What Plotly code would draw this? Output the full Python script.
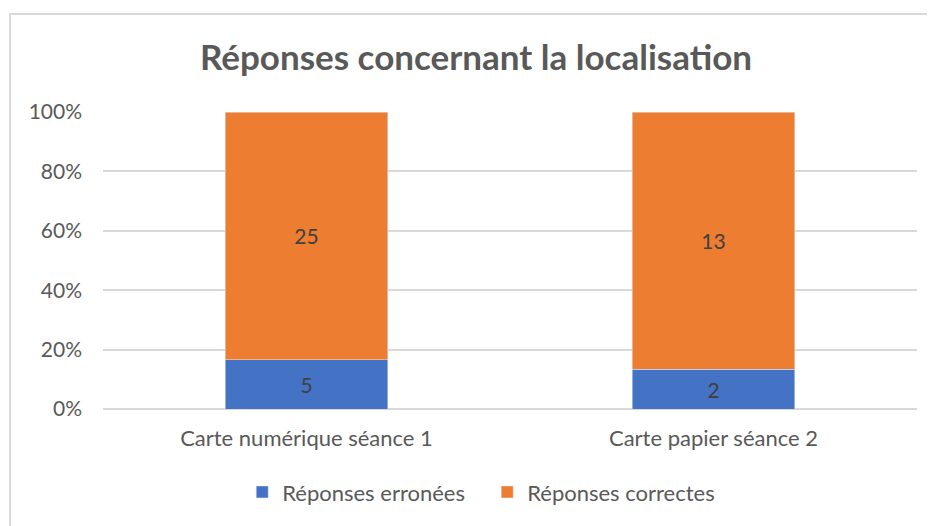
import plotly.graph_objects as go

categories = ["Carte numérique séance 1", "Carte papier séance 2"]
erronees = [5, 2]
correctes = [25, 13]
series_names = ["Réponses erronées", "Réponses correctes"]
tick_vals = [0, 20, 40, 60, 80, 100]
tick_text = ["0%", "20%", "40%", "60%", "80%", "100%"]

FONT = "Lato"
GREY = "#595959"

fig = go.Figure()
fig.add_trace(go.Bar(
    x=categories, y=erronees, name=series_names[0], marker_color="#4472C4",
    text=erronees, texttemplate="%{text}", textposition="inside",
    insidetextanchor="middle", textfont=dict(color="#404040", size=21, family=FONT),
))
fig.add_trace(go.Bar(
    x=categories, y=correctes, name=series_names[1], marker_color="#ED7D31",
    text=correctes, texttemplate="%{text}", textposition="inside",
    insidetextanchor="middle", textfont=dict(color="#404040", size=21, family=FONT),
))

fig.update_layout(
    barmode="stack", barnorm="percent", bargap=0.6,
    width=935, height=526,
    margin=dict(l=95, r=26, t=104, b=125, autoexpand=False),
    paper_bgcolor="white", plot_bgcolor="white",
    font=dict(family=FONT, color=GREY, size=21),
    title=dict(text="<b>Réponses concernant la localisation</b>", x=468/935, xref="container",
               xanchor="center", y=1 - 50/526, yref="container", yanchor="middle",
               font=dict(size=35, color=GREY, family=FONT)),
    legend=dict(orientation="h", x=0.472, xanchor="center", y=-0.28, yanchor="middle",
                font=dict(size=22, color=GREY), traceorder="normal", entrywidth=200),
    showlegend=True,
    shapes=[dict(type="rect", xref="paper", yref="paper", x0=-0.1143, x1=1.05, y0=-0.45, y1=1.33,
                 line=dict(color="#d9d9d9", width=2), layer="below")],
)
fig.update_xaxes(showgrid=False, showline=False, ticks="", ticklabelstandoff=14,
                 tickfont=dict(size=22, color=GREY))
fig.update_yaxes(range=[0, 100], tickvals=tick_vals, ticktext=tick_text, showgrid=True,
                 gridcolor="#d9d9d9", gridwidth=1.5, zeroline=True, zerolinecolor="#d9d9d9",
                 zerolinewidth=1.5, showline=False, ticks="", ticklabelstandoff=20,
                 tickfont=dict(size=21, color=GREY))

fig.write_html("out.html")
